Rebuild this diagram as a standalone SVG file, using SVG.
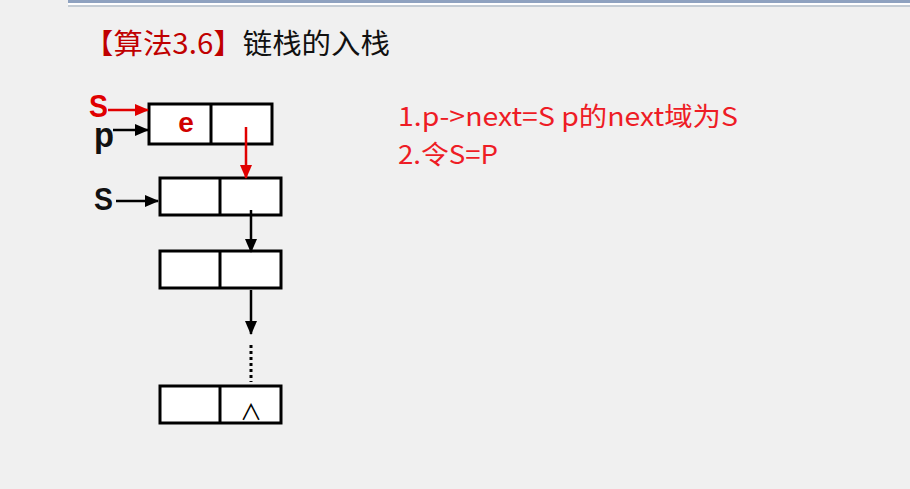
<svg xmlns="http://www.w3.org/2000/svg" width="910" height="489" viewBox="0 0 910 489">
<defs>
<style>
.box{fill:#ffffff;stroke:#000;stroke-width:3}
.div{stroke:#000;stroke-width:3}
.lk{stroke:#000;stroke-width:2.5;fill:none}
.lr{stroke:#e00000;stroke-width:2.5;fill:none}
.lbl{font-family:"Liberation Sans",Arial,sans-serif;font-weight:bold}
.note{font-family:"Noto Sans CJK SC",sans-serif;font-size:26px;fill:#ee1c25}
.title{font-family:"Noto Sans CJK SC",sans-serif;font-size:28px}
</style>
<marker id="akb" viewBox="0 0 14 12" refX="13" refY="6" markerWidth="14" markerHeight="12" orient="auto" markerUnits="userSpaceOnUse"><path d="M0,0 L14,6 L0,12 z" fill="#000"/></marker>
<marker id="arb" viewBox="0 0 14 12" refX="13" refY="6" markerWidth="14" markerHeight="12" orient="auto" markerUnits="userSpaceOnUse"><path d="M0,0 L14,6 L0,12 z" fill="#e00000"/></marker>
</defs>
<rect width="910" height="489" fill="#f0f0f0"/>
<rect x="68" y="0" width="842" height="3" fill="#8fa2c0"/>
<rect x="68" y="3" width="842" height="2" fill="#ffffff"/>
<rect x="68" y="5" width="842" height="2" fill="#c4ccd4"/>
<text class="title" x="84" y="54" textLength="306" lengthAdjust="spacingAndGlyphs"><tspan fill="#c00000">【算法3.6】</tspan><tspan fill="#111">链栈的入栈</tspan></text>
<g id="node-p">
<rect class="box" x="149" y="104" width="123" height="40"/>
<line class="div" x1="211" y1="104" x2="211" y2="144"/>
<text class="lbl" x="186" y="132" fill="#d00000" font-size="28" text-anchor="middle">e</text>
</g>
<g id="node-1">
<rect class="box" x="160" y="178" width="121" height="37"/>
<line class="div" x1="220" y1="178" x2="220" y2="215"/>
</g>
<g id="node-2">
<rect class="box" x="160" y="251" width="121" height="37"/>
<line class="div" x1="220" y1="251" x2="220" y2="288"/>
</g>
<g id="node-3">
<rect class="box" x="160" y="386" width="121" height="37"/>
<line class="div" x1="220" y1="386" x2="220" y2="423"/>
<text x="251" y="420" font-family="Noto Sans CJK SC,sans-serif" font-size="22" text-anchor="middle" fill="#000">∧</text>
</g>
<g id="label-S-red"><text class="lbl" x="89" y="117" fill="#e00000" font-size="31" textLength="19" lengthAdjust="spacingAndGlyphs">S</text></g>
<g id="label-p"><text class="lbl" x="94" y="147" fill="#111" font-size="35" textLength="20" lengthAdjust="spacingAndGlyphs">p</text></g>
<g id="label-S"><text class="lbl" x="94" y="210" fill="#111" font-size="31" textLength="19" lengthAdjust="spacingAndGlyphs">S</text></g>
<g id="connectors">
<line class="lr" x1="108" y1="110" x2="148" y2="110" marker-end="url(#arb)"/>
<line class="lk" x1="113" y1="130" x2="148" y2="130" marker-end="url(#akb)"/>
<line class="lr" x1="246" y1="127" x2="246" y2="178" marker-end="url(#arb)"/>
<line class="lk" x1="116" y1="201" x2="158" y2="201" marker-end="url(#akb)"/>
<line class="lk" x1="251" y1="210" x2="251" y2="252" marker-end="url(#akb)"/>
<line class="lk" x1="251" y1="290" x2="251" y2="334" marker-end="url(#akb)"/>
<line x1="251" y1="345" x2="251" y2="382" stroke="#000" stroke-width="3" stroke-dasharray="3,3"/>
</g>
<text class="note" x="398" y="126" textLength="340" lengthAdjust="spacingAndGlyphs">1.p-&gt;next=S p的next域为S</text>
<text class="note" x="398" y="164" textLength="100" lengthAdjust="spacingAndGlyphs">2.令S=P</text>
</svg>
